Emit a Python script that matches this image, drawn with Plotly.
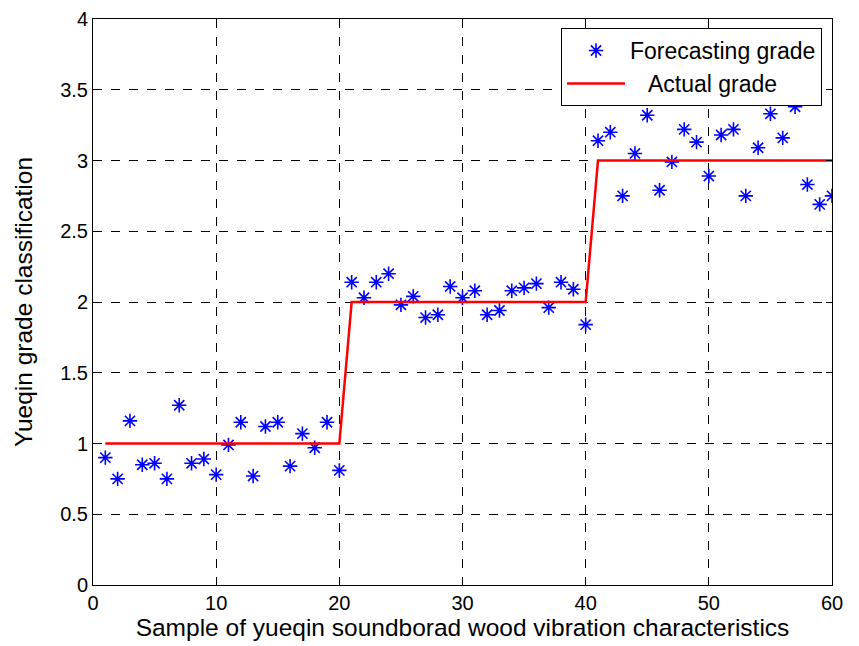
import plotly.graph_objects as go

samples = list(range(1, 61))
forecast = [0.90, 0.75, 1.16, 0.85, 0.86, 0.75, 1.27, 0.86, 0.89, 0.78,
            0.99, 1.15, 0.77, 1.12, 1.15, 0.84, 1.07, 0.97, 1.15, 0.81,
            2.14, 2.03, 2.14, 2.20, 1.98, 2.04, 1.89, 1.91, 2.11, 2.03,
            2.08, 1.91, 1.94, 2.08, 2.10, 2.13, 1.96, 2.14, 2.09, 1.84,
            3.14, 3.20, 2.75, 3.05, 3.32, 2.79, 2.99, 3.22, 3.13, 2.89,
            3.18, 3.22, 2.75, 3.09, 3.33, 3.16, 3.38, 2.83, 2.69, 2.75]
actual = [1] * 20 + [2] * 20 + [3] * 20

x_ticks = [0, 10, 20, 30, 40, 50, 60]
y_ticks = [0, 0.5, 1, 1.5, 2, 2.5, 3, 3.5, 4]
y_tick_text = ["0", "0.5", "1", "1.5", "2", "2.5", "3", "3.5", "4"]

FONT = "Liberation Sans, Arial, sans-serif"

fig = go.Figure()
fig.add_trace(go.Scatter(
    x=samples, y=forecast, mode="markers", name="Forecasting grade",
    marker=dict(symbol="asterisk-open", size=12, color="#0000FF",
                line=dict(color="#0000FF", width=1.6)),
))
fig.add_trace(go.Scatter(
    x=samples, y=actual, mode="lines", name="   Actual grade",
    line=dict(color="#FF0000", width=2.5),
))

axis_common = dict(
    showline=True, linecolor="black", linewidth=1, mirror="ticks",
    ticks="inside", ticklen=6, tickcolor="black",
    showgrid=True, gridcolor="black", griddash="dash", gridwidth=1,
    zeroline=False, automargin=False,
)

fig.update_xaxes(
    range=[0, 60], tickvals=x_ticks,
    tickfont=dict(family=FONT, size=20, color="black"),
    title=dict(text="\u00a0\u00a0Sample of yueqin soundborad wood vibration characteristics",
               font=dict(family=FONT, size=24.5, color="black"),
               standoff=4),
    **axis_common,
)
fig.update_yaxes(
    range=[0, 4], tickvals=y_ticks, ticktext=y_tick_text,
    tickfont=dict(family=FONT, size=20, color="black"),
    title=dict(text="Yueqin grade classification",
               font=dict(family=FONT, size=24.5, color="black"),
               standoff=20),
    **axis_common,
)

fig.update_layout(
    width=851, height=638,
    margin=dict(l=85, r=27, t=11, b=61),
    paper_bgcolor="white", plot_bgcolor="white",
    legend=dict(x=0.9865, y=0.984, xanchor="right", yanchor="top",
                bordercolor="black", borderwidth=1, bgcolor="white",
                font=dict(family=FONT, size=23, color="black"),
                tracegroupgap=0, itemwidth=58),
    showlegend=True,
)

fig.write_html("out.html")
